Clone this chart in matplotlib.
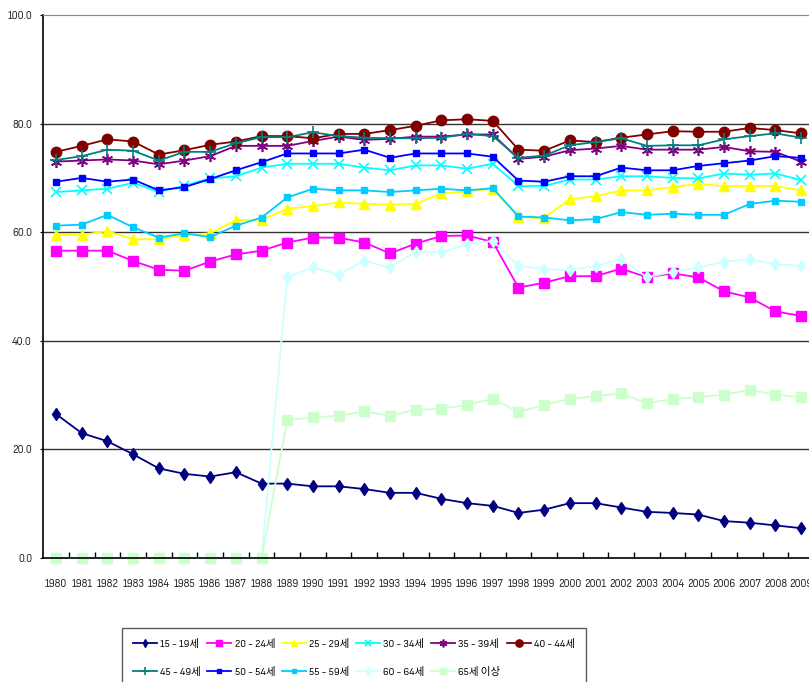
import matplotlib
matplotlib.use("Agg")
import matplotlib.pyplot as plt
from matplotlib import font_manager
from matplotlib.ticker import FixedLocator, FormatStrFormatter

# Prefer a narrow sans face for the labels when one is installed
narrow = None
for f in font_manager.fontManager.ttflist:
    fn = f.fname.lower()
    if ("narrow" in fn or "condensed" in fn) and "sans" in fn and f.weight in (400, "normal", "regular") \
            and f.style == "normal" and "mono" not in fn:
        narrow = f
        if "liberation" in fn:
            break

if narrow is not None:
    plt.rcParams["font.family"] = [narrow.name, "Noto Sans CJK KR", "DejaVu Sans"]
    plt.rcParams["font.stretch"] = narrow.stretch
    tick_fs, leg_fs = 7.8, 7.6
else:
    plt.rcParams["font.family"] = ["Liberation Sans", "Noto Sans CJK KR", "DejaVu Sans"]
    tick_fs, leg_fs = 7.2, 7.2

years = list(range(1980, 2010))

age_15_19 = [26.5, 23.0, 21.5, 19.1, 16.5, 15.5, 15.0, 15.8, 13.7, 13.7, 13.2, 13.2, 12.7, 12.0, 12.0,
             10.9, 10.1, 9.6, 8.3, 8.9, 10.1, 10.1, 9.3, 8.5, 8.3, 8.0, 6.8, 6.5, 6.0, 5.5]
age_20_24 = [56.6, 56.6, 56.6, 54.7, 53.1, 52.9, 54.6, 55.9, 56.6, 58.1, 59.0, 59.0, 58.1, 56.1, 57.9,
             59.3, 59.4, 58.2, 49.8, 50.7, 51.9, 51.9, 53.3, 51.7, 52.4, 51.7, 49.1, 48.0, 45.4, 44.6]
age_25_29 = [59.5, 59.5, 60.2, 58.7, 58.7, 59.5, 59.8, 62.2, 62.3, 64.3, 64.8, 65.5, 65.2, 65.1, 65.2,
             67.2, 67.5, 68.0, 62.8, 62.6, 66.1, 66.6, 67.7, 67.7, 68.3, 68.9, 68.5, 68.5, 68.5, 67.7]
age_30_34 = [67.4, 67.7, 68.0, 69.1, 67.4, 68.6, 69.9, 70.3, 71.9, 72.6, 72.6, 72.6, 71.9, 71.4, 72.3,
             72.3, 71.7, 72.6, 68.5, 68.5, 69.7, 69.7, 70.3, 70.3, 70.0, 69.9, 70.8, 70.6, 70.8, 69.6]
age_35_39 = [73.0, 73.2, 73.4, 73.2, 72.5, 73.2, 74.0, 75.9, 75.9, 75.9, 76.8, 77.6, 77.0, 77.2, 77.6,
             77.6, 78.0, 78.0, 73.5, 73.9, 75.1, 75.4, 75.9, 75.2, 75.2, 75.2, 75.7, 74.9, 74.8, 73.0]
age_40_44 = [74.8, 75.9, 77.1, 76.7, 74.3, 75.1, 76.1, 76.7, 77.7, 77.7, 77.3, 78.1, 78.1, 78.8, 79.6,
             80.6, 80.8, 80.5, 75.2, 75.0, 76.9, 76.6, 77.4, 78.0, 78.6, 78.5, 78.5, 79.2, 78.8, 78.2]
age_45_49 = [73.3, 74.0, 75.2, 75.0, 73.2, 74.8, 74.8, 76.4, 77.5, 77.5, 78.4, 77.7, 77.4, 77.3, 77.3,
             77.4, 78.1, 77.7, 73.7, 74.1, 76.0, 76.6, 77.3, 75.9, 76.0, 76.0, 77.1, 77.7, 78.2, 77.4]
age_50_54 = [69.3, 70.0, 69.3, 69.7, 67.7, 68.3, 69.8, 71.4, 72.9, 74.5, 74.5, 74.5, 75.2, 73.7, 74.5,
             74.5, 74.5, 73.9, 69.5, 69.3, 70.3, 70.3, 71.9, 71.4, 71.4, 72.2, 72.7, 73.2, 74.0, 73.7]
age_55_59 = [61.2, 61.4, 63.2, 60.9, 59.0, 59.8, 59.1, 61.2, 62.7, 66.4, 68.0, 67.7, 67.7, 67.4, 67.7,
             68.0, 67.7, 68.1, 62.9, 62.7, 62.2, 62.4, 63.7, 63.2, 63.4, 63.2, 63.2, 65.2, 65.8, 65.6]
age_60_64 = [0.0, 0.0, 0.0, 0.0, 0.0, 0.0, 0.0, 0.0, 0.0, 51.7, 53.5, 52.2, 54.7, 53.5, 56.4,
             56.3, 57.8, 58.4, 53.8, 53.2, 53.0, 53.8, 55.0, 51.7, 52.7, 53.5, 54.6, 55.0, 54.1, 53.8]
age_65_up = [0.0, 0.0, 0.0, 0.0, 0.0, 0.0, 0.0, 0.0, 0.0, 25.4, 25.9, 26.2, 27.0, 26.2, 27.3,
             27.5, 28.2, 29.3, 26.9, 28.2, 29.3, 29.8, 30.3, 28.5, 29.3, 29.6, 30.1, 30.9, 30.1, 29.6]

labels = ["15 - 19세", "20 - 24세", "25 - 29세", "30 - 34세", "35 - 39세", "40 - 44세",
          "45 - 49세", "50 - 54세", "55 - 59세", "60 - 64세", "65세 이상"]
series = [age_15_19, age_20_24, age_25_29, age_30_34, age_35_39, age_40_44,
          age_45_49, age_50_54, age_55_59, age_60_64, age_65_up]

styles = [
    dict(color="#000080", marker="d", ms=6),
    dict(color="#FF00FF", marker="s", ms=7),
    dict(color="#FFFF00", marker="^", ms=7),
    dict(color="#00FFFF", marker="x", ms=7, mew=1.2),
    dict(color="#800080", marker=(6, 2, 0), ms=8, mew=1.2),
    dict(color="#800000", marker="o", ms=7.5),
    dict(color="#008080", marker="+", ms=8, mew=1.2),
    dict(color="#0000FF", marker="s", ms=4),
    dict(color="#00CCFF", marker="s", ms=5),
    dict(color="#CCFFFF", marker="d", ms=6),
    dict(color="#CCFFCC", marker="s", ms=7),
]

W, H = 809, 682
fig = plt.figure(figsize=(W / 100, H / 100), dpi=100)
ax = fig.add_axes([43.2 / W, (H - 558) / H, 770.7 / W, 543 / H])

x = list(range(len(years)))
handles = []
for vals, lab, st in zip(series, labels, styles):
    h, = ax.plot(x, vals, lw=1.3, label=lab, clip_on=False, **st)
    handles.append(h)

ax.set_xlim(-0.5, len(years) - 0.5)
ax.set_ylim(0, 100)
for yv in (20, 40, 60, 80):
    ax.axhline(yv, color="#333333", lw=1.0, zorder=0.5)

ax.set_yticks([0, 20, 40, 60, 80, 100])
ax.yaxis.set_major_formatter(FormatStrFormatter("%.1f"))
ax.set_xticks(x)
ax.set_xticklabels([str(y) for y in years])
ax.xaxis.set_minor_locator(FixedLocator([i + 0.5 for i in x]))
ax.tick_params(axis="x", which="major", length=0, pad=15, labelsize=tick_fs, labelcolor="#222222")
ax.tick_params(axis="x", which="minor", direction="in", length=4, width=1, color="black")
ax.tick_params(axis="y", which="major", length=2, pad=6, labelsize=tick_fs, labelcolor="#222222")

ax.spines["left"].set_color("black")
ax.spines["left"].set_linewidth(1.2)
ax.spines["bottom"].set_color("black")
ax.spines["bottom"].set_linewidth(1.2)
ax.spines["top"].set_color("#888888")
ax.spines["right"].set_visible(False)

# Legend reads row by row: six entries on the first row, five on the second
order = [0, 6, 1, 7, 2, 8, 3, 9, 4, 10, 5]
leg = fig.legend(handles=[handles[i] for i in order], loc="upper left",
                 bbox_to_anchor=(122 / W, (H - 628) / H),
                 ncol=6, fontsize=leg_fs, frameon=True, fancybox=False, edgecolor="#333333",
                 handlelength=2.3, handletextpad=0.3, columnspacing=0.6, markerscale=0.7,
                 borderpad=1.0, labelspacing=1.75, borderaxespad=0)
leg.get_frame().set_linewidth(1.0)

fig.savefig("out.png", dpi=100)
